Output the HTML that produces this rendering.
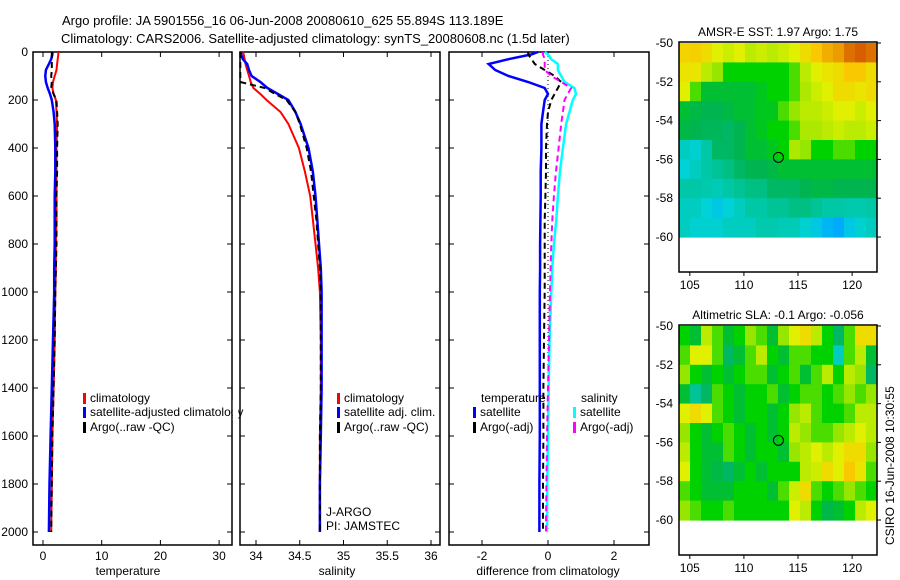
<!DOCTYPE html>
<html><head><meta charset="utf-8"><style>
html,body{margin:0;padding:0;background:#fff;}
svg{display:block;font-family:"Liberation Sans",sans-serif;}
text{font-size:12px;fill:#000;}
</style></head><body>
<svg id="fig" width="900" height="580" viewBox="0 0 900 580" xmlns="http://www.w3.org/2000/svg">
<text x="62" y="25" style="font-size:13px">Argo profile: JA 5901556_16 06-Jun-2008 20080610_625 55.894S 113.189E</text>
<text x="61" y="43" style="font-size:13px">Climatology: CARS2006. Satellite-adjusted climatology: synTS_20080608.nc (1.5d later)</text>
<g id="g"></g>
</svg>
<script>
const depths=[0,10,30,50,75,100,125,150,175,200,250,300,400,500,600,700,800,900,1000,1200,1400,1600,1800,2000];
const tempClim=[2.6,2.6,2.5,2.4,2.3,2.0,1.7,1.6,1.8,2.2,2.3,2.4,2.3,2.3,2.3,2.3,2.2,2.2,2.1,2.0,1.8,1.6,1.5,1.4];
const tempSat=[1.6,1.6,1.4,1.0,0.5,0.4,0.5,0.8,1.2,1.5,1.8,2.0,2.1,2.1,2.0,2.0,2.0,1.9,1.9,1.7,1.5,1.3,1.1,1.0];
const tempArgo=[1.5,1.5,1.5,1.5,1.5,1.4,1.5,1.4,1.8,2.3,2.4,2.5,2.4,2.4,2.3,2.3,2.3,2.2,2.1,2.0,1.8,1.6,1.5,1.4];
const salClim=[33.85,33.86,33.87,33.88,33.9,33.92,33.94,33.97,34.05,34.12,34.28,34.37,34.49,34.56,34.62,34.65,34.68,34.71,34.73,34.74,34.74,34.73,34.73,34.73];
const salSat=[33.83,33.83,33.85,33.9,33.92,33.95,34.05,34.13,34.25,34.37,34.45,34.51,34.6,34.65,34.68,34.7,34.72,34.74,34.75,34.75,34.75,34.74,34.73,34.73];
const salArgo=[33.82,33.82,33.82,33.82,33.82,33.82,33.82,34.1,34.22,34.35,34.45,34.5,34.58,34.63,34.66,34.69,34.71,34.73,34.74,34.74,34.74,34.73,34.73,34.73];
const dTempSat=[-0.3,-0.5,-1.2,-1.8,-1.6,-1.2,-0.6,-0.1,0.0,-0.1,-0.15,-0.2,-0.2,-0.22,-0.22,-0.23,-0.24,-0.24,-0.25,-0.25,-0.25,-0.25,-0.26,-0.26];
const dTempArgo=[-0.6,-0.6,-0.5,-0.4,-0.1,0.2,0.4,0.3,0.2,0.1,0.0,-0.03,-0.06,-0.06,-0.08,-0.1,-0.1,-0.1,-0.1,-0.12,-0.14,-0.14,-0.15,-0.15];
const dSalSat=[-0.1,0.0,0.1,0.3,0.3,0.4,0.5,0.8,0.85,0.75,0.65,0.55,0.45,0.36,0.3,0.25,0.18,0.13,0.1,0.05,0.02,0.0,-0.02,-0.03];
const dSalArgo=[-0.15,-0.15,-0.1,-0.1,-0.1,0.1,0.4,0.7,0.6,0.5,0.45,0.4,0.32,0.24,0.18,0.13,0.1,0.08,0.06,0.03,0.0,-0.03,-0.05,-0.06];
const depthTicks=[0,200,400,600,800,1000,1200,1400,1600,1800,2000];
const tempTicks=[0,10,20,30];
const salTicks=[34,34.5,35,35.5,36];
const salTickLabels=["34","34.5","35","35.5","36"];
const diffTicks=[-2,0,2];
const latTicks=[-50,-52,-54,-56,-58,-60];
const lonTicks=[105,110,115,120];
const sstGrid=[
[0.82,0.83,0.8,0.75,0.72,0.75,0.7,0.72,0.7,0.72,0.75,0.8,0.85,0.88,0.9,0.95,0.97,0.95],
[0.78,0.78,0.7,0.65,0.55,0.55,0.55,0.55,0.55,0.55,0.6,0.7,0.75,0.78,0.8,0.85,0.85,0.8],
[0.75,0.6,0.5,0.5,0.5,0.5,0.5,0.52,0.55,0.55,0.6,0.68,0.72,0.75,0.8,0.8,0.78,0.8],
[0.5,0.48,0.47,0.47,0.48,0.5,0.5,0.52,0.52,0.6,0.65,0.7,0.7,0.72,0.75,0.75,0.72,0.75],
[0.48,0.47,0.46,0.46,0.45,0.47,0.5,0.52,0.55,0.55,0.6,0.68,0.68,0.7,0.72,0.7,0.7,0.72],
[0.35,0.33,0.38,0.45,0.45,0.47,0.5,0.5,0.52,0.55,0.68,0.65,0.55,0.55,0.6,0.6,0.55,0.55],
[0.32,0.35,0.38,0.4,0.42,0.45,0.47,0.47,0.48,0.5,0.5,0.5,0.5,0.5,0.5,0.5,0.5,0.5],
[0.38,0.38,0.37,0.36,0.38,0.4,0.42,0.42,0.45,0.45,0.45,0.47,0.48,0.48,0.47,0.47,0.47,0.47],
[0.35,0.35,0.32,0.3,0.32,0.35,0.38,0.38,0.4,0.4,0.42,0.42,0.4,0.38,0.38,0.37,0.37,0.38],
[0.35,0.33,0.33,0.33,0.35,0.35,0.35,0.37,0.37,0.36,0.36,0.33,0.3,0.27,0.25,0.3,0.33,0.35]];
const slaGrid=[
[0.55,0.5,0.7,0.6,0.5,0.55,0.65,0.6,0.5,0.65,0.75,0.8,0.7,0.55,0.45,0.6,0.8,0.8],
[0.6,0.75,0.75,0.6,0.45,0.5,0.6,0.7,0.55,0.5,0.6,0.6,0.55,0.55,0.35,0.6,0.7,0.5],
[0.65,0.55,0.5,0.55,0.5,0.55,0.6,0.6,0.5,0.55,0.6,0.5,0.6,0.7,0.55,0.7,0.65,0.45],
[0.5,0.4,0.45,0.6,0.55,0.5,0.55,0.55,0.6,0.5,0.55,0.6,0.6,0.55,0.6,0.65,0.6,0.65],
[0.75,0.8,0.75,0.6,0.55,0.5,0.55,0.55,0.5,0.55,0.65,0.7,0.6,0.55,0.55,0.6,0.7,0.7],
[0.65,0.55,0.5,0.55,0.6,0.55,0.5,0.55,0.5,0.55,0.7,0.65,0.6,0.6,0.65,0.7,0.75,0.7],
[0.7,0.55,0.5,0.5,0.6,0.55,0.5,0.55,0.55,0.5,0.65,0.7,0.75,0.7,0.75,0.8,0.8,0.65],
[0.75,0.55,0.5,0.48,0.45,0.5,0.55,0.5,0.55,0.55,0.55,0.7,0.72,0.8,0.75,0.85,0.78,0.6],
[0.6,0.55,0.5,0.5,0.5,0.55,0.55,0.55,0.5,0.6,0.72,0.8,0.6,0.55,0.6,0.65,0.6,0.55],
[0.65,0.6,0.55,0.55,0.6,0.55,0.55,0.55,0.55,0.55,0.75,0.7,0.55,0.48,0.5,0.55,0.7,0.75]];
const argoLon=113.189, argoLat=-55.894;

const NS="http://www.w3.org/2000/svg";
const G=document.getElementById('g');
function mk(tag,at,parent){const e=document.createElementNS(NS,tag);for(const k in at)e.setAttribute(k,at[k]);(parent||G).appendChild(e);return e;}
const yD=d=>52+d*0.24;
const xT=t=>43+5.87*t;
const xS=s=>256+87.5*(s-34);
const xDf=v=>548+33*v;

function frame(x0,x1,name){
  const r=mk('rect',{x:x0,y:52,width:x1-x0,height:493,fill:'none',stroke:'#000','stroke-width':1.5});
  
  
  depthTicks.forEach(d=>{
    const t=mk('line',{x1:x0,x2:x0+5,y1:yD(d),y2:yD(d),stroke:'#000'});
    
    
    const t2=mk('line',{x1:x1-5,x2:x1,y1:yD(d),y2:yD(d),stroke:'#000'});
    
    
  });
}
function xticks(vals,labels,fx,title,tx){
  vals.forEach((v,i)=>{
    const x=fx(v);
    const a=mk('line',{x1:x,x2:x,y1:545,y2:540,stroke:'#000'});
    
    
    const b=mk('line',{x1:x,x2:x,y1:52,y2:57,stroke:'#000'});
    
    
    const t=mk('text',{x:x,y:560,'text-anchor':'middle'});t.textContent=labels[i];
    
    
  });
  const t=mk('text',{x:tx,y:575,'text-anchor':'middle'});t.textContent=title;
  
  
}
function line(vals,fx,color,w,dash,name,n){
  const pts=[];const N=n||vals.length;
  for(let i=0;i<N;i++)pts.push(fx(vals[i]).toFixed(1)+','+yD(depths[i]).toFixed(1));
  const p=mk('polyline',{points:pts.join(' '),fill:'none',stroke:color,'stroke-width':w});
  if(dash)p.setAttribute('stroke-dasharray',dash);
  
  
}
function legend(x,y,color,label){
  const r=mk('rect',{x:x,y:y-9,width:3,height:11,fill:color});
  
  
  const t=mk('text',{x:x+7,y:y});t.textContent=label;
  
  
}

depthTicks.forEach(d=>{const t=mk('text',{x:28,y:yD(d)+4,'text-anchor':'end'});t.textContent=d;
  
  });

frame(33,232,'temperature-panel');
xticks(tempTicks,tempTicks.map(String),xT,'temperature',128);
line(tempClim,xT,'#f00',2,null,'temperature-climatology-line');
line(tempSat,xT,'#00f',2.5,null,'temperature-satellite-line');
line(tempArgo,xT,'#000',2,'6,4','temperature-argo-line');
legend(83,402,'#f00','climatology');
legend(83,416,'#00f','satellite-adjusted climatology');
legend(83,431,'#000','Argo(..raw -QC)');
const cov=mk('rect',{x:232.8,y:400,width:5.5,height:20,fill:'#fff'});



frame(240,440,'salinity-panel');
xticks(salTicks,salTickLabels,xS,'salinity',337);
line(salClim,xS,'#f00',2,null,'salinity-climatology-line');
line(salSat,xS,'#00f',2.5,null,'salinity-satellite-line');
line(salArgo,xS,'#000',2,'6,4','salinity-argo-line');
legend(337,402,'#f00','climatology');
legend(337,416,'#00f','satellite adj. clim.');
legend(337,431,'#000','Argo(..raw -QC)');
const j1=mk('text',{x:326,y:516});j1.textContent='J-ARGO';


const j2=mk('text',{x:326,y:530});j2.textContent='PI: JAMSTEC';



frame(449,649,'difference-panel');
xticks(diffTicks,diffTicks.map(String),xDf,'difference from climatology',548);
const z=mk('line',{x1:xDf(0),x2:xDf(0),y1:52,y2:yD(2000),stroke:'#000','stroke-dasharray':'1,3'});


line(dTempSat,xDf,'#00f',2.5,null,'temp-diff-satellite-line');
line(dTempArgo,xDf,'#000',2,'6,4','temp-diff-argo-line');
line(dSalSat,xDf,'#0ff',2.5,null,'sal-diff-satellite-line');
line(dSalArgo,xDf,'#f0f',2,'6,4','sal-diff-argo-line');
const h1=mk('text',{x:481,y:402});h1.textContent='temperature';


const h2=mk('text',{x:581,y:402});h2.textContent='salinity';


legend(473,416,'#00f','satellite');
legend(473,431,'#000','Argo(-adj)');
legend(573,416,'#0ff','satellite');
legend(573,431,'#f0f','Argo(-adj)');

function cmap(v){
  const stops=[[0.25,[0,170,255]],[0.32,[0,210,215]],[0.4,[0,195,150]],[0.47,[0,180,80]],[0.55,[0,210,0]],[0.65,[150,230,0]],[0.75,[225,240,0]],[0.85,[250,200,0]],[0.97,[215,95,0]]];
  if(v<=stops[0][0])return 'rgb('+stops[0][1]+')';
  for(let i=1;i<stops.length;i++){if(v<=stops[i][0]){const a=stops[i-1],b=stops[i],f=(v-a[0])/(b[0]-a[0]);
    return 'rgb('+a[1].map((c,k)=>Math.round(c+(b[1][k]-c)*f)).join(',')+')';}}
  return 'rgb('+stops[stops.length-1][1]+')';
}
function map(top,grid,title,name){
  const x0=679,x1=877,yb=top+230;
  const xL=lon=>679+(lon-104)*(198/18.3);
  const yL=lat=>top+1+(-50-lat)*19.4;
  const rows=grid.length,cols=grid[0].length;
  const cw=(x1-x0)/cols,ch=(yL(-60)-yL(-50))/rows;
  grid.forEach((row,r)=>row.forEach((v,c)=>{
    const cell=mk('rect',{x:(x0+c*cw).toFixed(2),y:(yL(-50)+r*ch).toFixed(2),width:(cw+0.6).toFixed(2),height:(ch+0.6).toFixed(2),fill:cmap(v)});
    
    
  }));
  const f=mk('rect',{x:x0,y:top,width:x1-x0,height:yb-top,fill:'none',stroke:'#000','stroke-width':1.5});
  
  
  latTicks.forEach(l=>{
    const t=mk('text',{x:673,y:yL(l)+4,'text-anchor':'end'});t.textContent=l;
    
    
    const k=mk('line',{x1:x1,x2:x1+4,y1:yL(l),y2:yL(l),stroke:'#000'});
    
    
  });
  lonTicks.forEach(l=>{
    const t=mk('text',{x:xL(l),y:yb+17,'text-anchor':'middle'});t.textContent=l;
    
    
    const k=mk('line',{x1:xL(l),x2:xL(l),y1:yb,y2:yb+4,stroke:'#000'});
    
    
  });
  const c=mk('circle',{cx:xL(argoLon),cy:yL(argoLat),r:5,fill:'none',stroke:'#000'});
  
  
  const t=mk('text',{x:(x0+x1)/2,y:top-6,'text-anchor':'middle'});t.textContent=title;
  
  
}
map(42,sstGrid,'AMSR-E SST: 1.97 Argo: 1.75','sst-map');
map(325,slaGrid,'Altimetric SLA: -0.1 Argo: -0.056','sla-map');
const st=mk('text',{x:0,y:0,transform:'translate(894,545) rotate(-90)'});
st.textContent='CSIRO 16-Jun-2008 10:30:55';


</script>
</body></html>
